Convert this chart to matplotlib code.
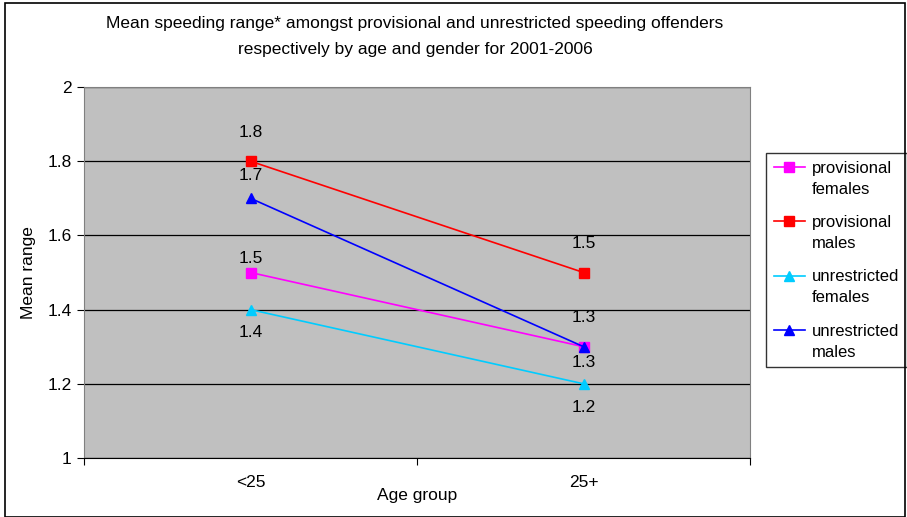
import numpy as np
import matplotlib
matplotlib.use("Agg")
import matplotlib.pyplot as plt
from matplotlib.patches import Rectangle
from matplotlib.legend_handler import HandlerLine2D

plt.rcParams['font.family'] = ['Liberation Sans', 'DejaVu Sans']

# Datos
groups = ["<25", "25+"]
series_names = ["provisional\nfemales", "provisional\nmales",
                "unrestricted\nfemales", "unrestricted\nmales"]
prov_females = [1.5, 1.3]
prov_males = [1.8, 1.5]
unr_females = [1.4, 1.2]
unr_males = [1.7, 1.3]

series = [prov_females, prov_males, unr_females, unr_males]
colors = ["#FF00FF", "#FF0000", "#00CCFF", "#0000FF"]
markers = ["s", "s", "^", "^"]
# desplazamiento de etiquetas (pixeles) por serie y grupo
label_dy = [[14, 29], [29, 29], [-23, -24], [23, -16]]


# linea de la leyenda alineada con la primera linea del texto
class UpperHandler(HandlerLine2D):
    def create_artists(self, legend, orig_handle, xdescent, ydescent,
                       width, height, fontsize, trans):
        arts = super().create_artists(legend, orig_handle, xdescent, ydescent,
                                      width, height, fontsize, trans)
        for a in arts:
            a.set_ydata(np.asarray(a.get_ydata()) + 0.7 * fontsize)
        return arts


fs = 12.5
fig = plt.figure(figsize=(9.07, 5.17), dpi=100)
ax = fig.add_axes([0.0926, 0.1141, 0.7344, 0.7176])
ax.set_facecolor("#C0C0C0")

x = np.arange(len(groups)) + 0.5
lines = []
for i in range(len(series)):
    ln, = ax.plot(x, series[i], color=colors[i], marker=markers[i], markersize=7.5,
                  linewidth=1.2, label=series_names[i])
    lines.append(ln)
    for j in range(len(groups)):
        ax.annotate("%.1f" % series[i][j], (x[j], series[i][j]),
                    xytext=(0, label_dy[i][j]), textcoords="offset pixels",
                    ha="center", va="center", fontsize=fs)

ax.set_xlim(0, 2)
ax.set_ylim(1, 2)
ax.set_yticks([1, 1.2, 1.4, 1.6, 1.8, 2])
ax.set_yticklabels(["1", "1.2", "1.4", "1.6", "1.8", "2"], fontsize=fs)
ax.set_xticks([0, 1, 2])
ax.set_xticklabels([])
ax.set_xticks(x, minor=True)
ax.set_xticklabels(groups, minor=True, fontsize=fs)
ax.tick_params(axis="x", which="minor", length=0, pad=12)
ax.tick_params(axis="x", which="major", length=5, direction="out")
ax.tick_params(axis="y", length=5, direction="out", pad=4)
ax.yaxis.grid(True, color="black", linewidth=0.9)
ax.set_axisbelow(True)
for s in ["top", "right", "left"]:
    ax.spines[s].set_color("#808080")
ax.spines["bottom"].set_color("black")

ax.set_xlabel("Age group", fontsize=fs, labelpad=-1)
ax.set_ylabel("Mean range", fontsize=fs, labelpad=8)

fig.text(0.4576, 0.969, "Mean speeding range* amongst provisional and unrestricted speeding offenders\nrespectively by age and gender for 2001-2006",
         ha="center", va="top", fontsize=fs, linespacing=1.9)

leg = ax.legend(handles=lines, loc="upper left", bbox_to_anchor=(1.024, 0.822), fontsize=12,
                frameon=True, fancybox=False, edgecolor="black",
                handlelength=1.9, handletextpad=0.4, labelspacing=1.1,
                borderpad=0.45, borderaxespad=0,
                handler_map={l: UpperHandler() for l in lines})
leg.get_frame().set_linewidth(1)
for t in leg.get_texts():
    t.set_linespacing(1.5)

fig.patches.append(Rectangle((0.006, 0.0), 0.992, 0.994, transform=fig.transFigure,
                             fill=False, edgecolor="black", linewidth=1.2))

plt.savefig("out.png", dpi=100)
plt.close()
